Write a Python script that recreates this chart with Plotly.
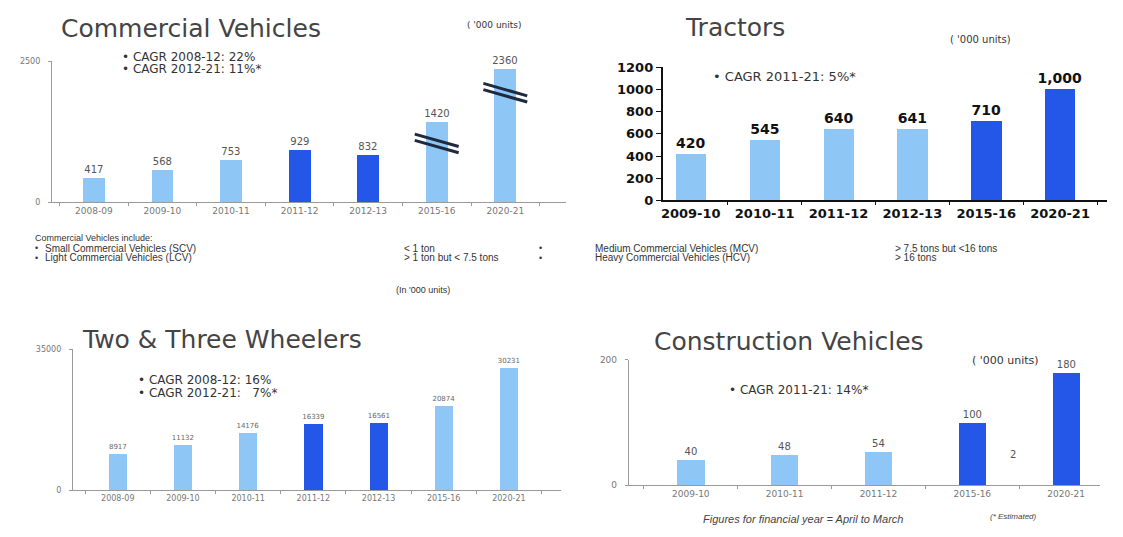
import plotly.graph_objects as go

W, H = 1123, 537
LIGHT = "#8EC6F6"
DARK = "#2457E8"
FONT = "Liberation Sans, Arial, sans-serif"
WIDE = "DejaVu Sans, Verdana, sans-serif"

# ---------------- data ----------------
cv_years = ["2008-09", "2009-10", "2010-11", "2011-12", "2012-13", "2015-16", "2020-21"]
cv_values = [417, 568, 753, 929, 832, 1420, 2360]
cv_dark = [False, False, False, True, True, False, False]
cv_break_years = ["2015-16", "2020-21"]
cv_break_levels = [1100, 2000]

tr_years = ["2009-10", "2010-11", "2011-12", "2012-13", "2015-16", "2020-21"]
tr_values = [420, 545, 640, 641, 710, 1000]
tr_labels = ["420", "545", "640", "641", "710", "1,000"]
tr_dark = [False, False, False, False, True, True]

tw_years = ["2008-09", "2009-10", "2010-11", "2011-12", "2012-13", "2015-16", "2020-21"]
tw_values = [8917, 11132, 14176, 16339, 16561, 20874, 30231]
tw_dark = [False, False, False, True, True, False, False]

ce_years = ["2009-10", "2010-11", "2011-12", "2015-16", "2020-21"]
ce_values = [40, 48, 54, 100, 180]
ce_dark = [False, False, False, True, True]


def px_dom_x(a, b):
    return [a / W, b / W]


def px_dom_y(top, bottom):
    return [1 - bottom / H, 1 - top / H]


def cat_range(left_px, right_px, first_center, spacing):
    return [(left_px - first_center) / spacing, (right_px - first_center) / spacing]


fig = go.Figure()


def add_bars(years, values, dark, xa, ya, width, text, tfont):
    fig.add_trace(go.Bar(
        x=years, y=values, xaxis=xa, yaxis=ya, width=width,
        marker=dict(color=[DARK if d else LIGHT for d in dark], line=dict(width=0)),
        text=text, textposition="outside", textfont=tfont, cliponaxis=False,
        constraintext="none", showlegend=False, hoverinfo="x+y",
    ))


add_bars(cv_years, cv_values, cv_dark, "x", "y", 0.32, [str(v) for v in cv_values],
         dict(family=WIDE, size=10, color="#555"))
add_bars(tr_years, tr_values, tr_dark, "x2", "y2", 0.41, tr_labels,
         dict(family=WIDE, size=14, color="#111", weight="bold"))
add_bars(tw_years, tw_values, tw_dark, "x3", "y3", 0.28, [str(v) for v in tw_values],
         dict(family=WIDE, size=7, color="#666"))
add_bars(ce_years, ce_values, ce_dark, "x4", "y4", 0.29, [str(v) for v in ce_values],
         dict(family=WIDE, size=10, color="#555"))

thin_axis = dict(showline=True, linecolor="#9A9A9A", linewidth=1, ticks="outside",
                 tickcolor="#9A9A9A", ticklen=3, showgrid=False, zeroline=False,
                 tickfont=dict(family=WIDE, size=9, color="#777"), fixedrange=True)
bold_tick = dict(family=WIDE, size=13, color="#111", weight="bold")

fig.update_layout(
    width=W, height=H, margin=dict(l=0, r=0, t=0, b=0),
    paper_bgcolor="white", plot_bgcolor="rgba(0,0,0,0)",
    bargap=0, font=dict(family=FONT),
    xaxis=dict(thin_axis, domain=px_dom_x(50, 565), type="category",
               range=cat_range(50, 565, 92, 68.7), anchor="y", tickson="boundaries"),
    yaxis=dict(thin_axis, domain=px_dom_y(56, 201), range=[0, 2500],
               tickvals=[0, 2500], ticktext=["0", "2500"], anchor="x", ticklabelstandoff=6,
               tickfont=dict(family=WIDE, size=8, color="#777")),
    xaxis2=dict(thin_axis, domain=px_dom_x(662, 1107), type="category",
                range=cat_range(662, 1107, 690, 74), anchor="y2", tickson="boundaries",
                linecolor="#111", linewidth=2, tickcolor="#111", tickfont=bold_tick),
    yaxis2=dict(thin_axis, domain=px_dom_y(62, 199), range=[0, 1200], dtick=200,
                anchor="x2", linecolor="#111", linewidth=2, tickcolor="#111", ticklen=5,
                tickfont=bold_tick),
    xaxis3=dict(thin_axis, domain=px_dom_x(71, 560), type="category",
                range=cat_range(71, 560, 116, 65.3), anchor="y3", tickson="boundaries",
                tickfont=dict(family=WIDE, size=8, color="#777")),
    yaxis3=dict(thin_axis, domain=px_dom_y(352, 497), range=[0, 35000],
                tickvals=[0, 35000], ticktext=["0", "35000"], anchor="x3", ticklabelstandoff=6,
                tickfont=dict(family=WIDE, size=8, color="#777")),
    xaxis4=dict(thin_axis, domain=px_dom_x(628, 1100), type="category",
                range=cat_range(628, 1100, 690, 94), anchor="y4", tickson="boundaries"),
    yaxis4=dict(thin_axis, domain=px_dom_y(363, 492), range=[0, 200],
                tickvals=[0, 200], ticktext=["0", "200"], anchor="x4", ticklabelstandoff=6),
)

# break marks on the commercial vehicles bars
for yr, lvl in zip(cv_break_years, cv_break_levels):
    i = cv_years.index(yr)
    for off in (0, -110):
        fig.add_shape(type="line", xref="x", yref="y",
                      x0=i - 0.32, x1=i + 0.32, y0=lvl + 110 + off, y1=lvl - 110 + off,
                      line=dict(color="#1E2A40", width=3))


def note(text, x, y, size, color="#333", xanchor="left", family=FONT, **kw):
    fig.add_annotation(text=text, x=x / W, y=1 - y / H, xref="paper", yref="paper",
                       showarrow=False, xanchor=xanchor, yanchor="middle", align="left",
                       font=dict(family=family, size=size, color=color, **kw))


# Commercial vehicles
note("Commercial Vehicles", 57, 22, 25, "#444", family=WIDE)
note("( '000 units)", 464, 19, 9, "#333", family=WIDE)
note("• CAGR 2008-12: 22%", 118, 51, 12, "#333", family=WIDE)
note("• CAGR 2012-21: 11%*", 118, 64, 12, "#333", family=WIDE)

# Tractors
note("Tractors", 682, 21, 25, "#444", family=WIDE)
note("( '000 units)", 948, 33, 10, "#333", family=WIDE)
note("• CAGR 2011-21: 5%*", 710, 71, 13, "#333", family=WIDE)

# Middle note
note("Commercial Vehicles include:", 31, 238, 9, "#333")
rows = [("Small Commercial Vehicles (SCV)", "< 1 ton", "Medium Commercial Vehicles (MCV)", "> 7.5 tons but <16 tons"),
        ("Light Commercial Vehicles (LCV)", "> 1 ton but < 7.5 tons", "Heavy Commercial Vehicles (HCV)", "> 16 tons")]
for k, (a, b, c, d) in enumerate(rows):
    yy = 248 + 10 * k
    note("•", 31, yy, 9)
    note(a, 41, yy, 10)
    note(b, 401, yy, 10)
    note("•", 536, yy, 9)
    note(c, 592, yy, 10)
    note(d, 893, yy, 10)
note("(In '000 units)", 393, 291, 9, "#333")

# Two & three wheelers
note("Two & Three Wheelers", 78, 342, 25, "#444", family=WIDE)
note("• CAGR 2008-12: 16%", 134, 384, 12, "#333", family=WIDE)
note("• CAGR 2012-21:   7%*", 134, 397, 12, "#333", family=WIDE)

# Construction vehicles
note("Construction Vehicles", 651, 344, 25, "#444", family=WIDE)
note("( '000 units)", 970, 364, 11, "#333", family=WIDE)
note("• CAGR 2011-21: 14%*", 726, 394, 12, "#333", family=WIDE)
note("2", 1008, 460, 10, "#555", family=WIDE)
note("Figures for financial year = April to March", 700, 527, 11, "#444", style="italic")
note("(* Estimated)", 988, 524, 8, "#444", style="italic")

fig.write_html("out.html")
